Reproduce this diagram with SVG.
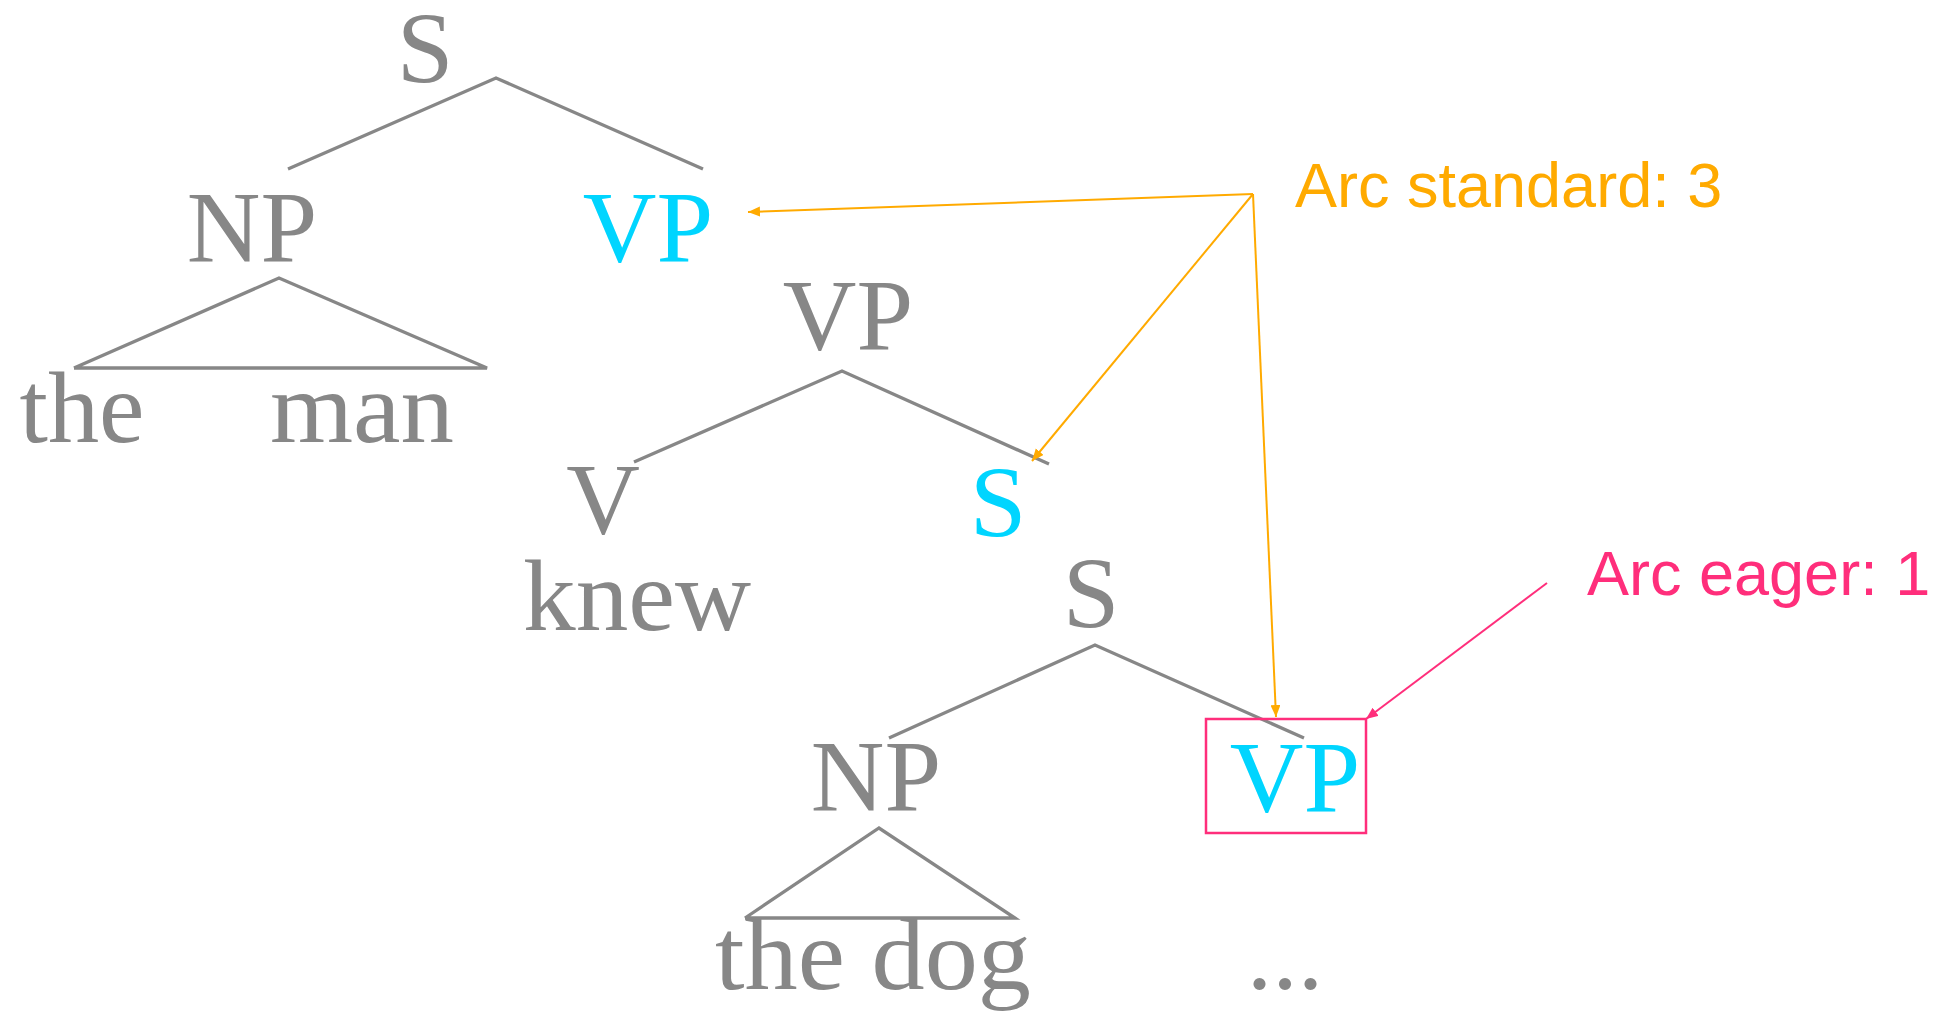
<svg xmlns="http://www.w3.org/2000/svg" width="1938" height="1019" viewBox="0 0 1938 1019">
  <style>
    .lbl { font-family: "Liberation Serif", "DejaVu Serif", serif; font-size: 102px; text-anchor: middle; }
    .gray { fill: #878787; }
    .cyan { fill: #00D5FF; }
    .edge { stroke: #878787; stroke-width: 3.3; fill: none; stroke-linejoin: miter; }
    .note { font-family: "Liberation Sans", Arial, sans-serif; font-size: 63px; }
    .std { stroke: #FFAA00; stroke-width: 2; fill: none; }
    .eag { stroke: #FF2E7B; stroke-width: 2; fill: none; }
  </style>
  <defs>
    <marker id="headStd" markerUnits="userSpaceOnUse" markerWidth="13" markerHeight="11" refX="12" refY="5" orient="auto">
      <path d="M0,0 L12,5 L0,10 z" fill="#FFAA00"/>
    </marker>
    <marker id="headEag" markerUnits="userSpaceOnUse" markerWidth="13" markerHeight="11" refX="12" refY="5" orient="auto">
      <path d="M0,0 L12,5 L0,10 z" fill="#FF2E7B"/>
    </marker>
  </defs>
  <rect width="1938" height="1019" fill="#ffffff"/>

  <!-- tree branches -->
  <g id="connectors">
    <polyline class="edge" points="288,169 496,78 703,169"/>
    <polyline class="edge" points="74,368 279,278 487,368 74,368"/>
    <polyline class="edge" points="634,462 842,371 1049,464"/>
    <polyline class="edge" points="889,738 1095,645 1304,738"/>
    <polyline class="edge" points="745,918 879,828 1015,918 745,918"/>
    <!-- transition arrows -->
    <line class="std" x1="1253" y1="194" x2="748" y2="212" marker-end="url(#headStd)"/>
    <line class="std" x1="1253" y1="194" x2="1032" y2="461" marker-end="url(#headStd)"/>
    <line class="std" x1="1253" y1="194" x2="1276" y2="717" marker-end="url(#headStd)"/>
    <line class="eag" x1="1547" y1="583" x2="1366" y2="719" marker-end="url(#headEag)"/>
  </g>

  <g id="s-root"><text class="lbl gray" x="425" y="83">S</text></g>
  <g id="np-1"><text class="lbl gray" x="252" y="262">NP</text></g>
  <g id="vp-1"><text class="lbl cyan" x="648" y="262">VP</text></g>
  <g id="words-1">
    <text class="lbl gray" x="82" y="442" textLength="125" lengthAdjust="spacingAndGlyphs">the</text>
    <text class="lbl gray" x="362" y="442" textLength="184" lengthAdjust="spacingAndGlyphs">man</text>
  </g>
  <g id="vp-2"><text class="lbl gray" x="848" y="350">VP</text></g>
  <g id="v"><text class="lbl gray" x="603" y="534">V</text></g>
  <g id="s-2"><text class="lbl cyan" x="998" y="537">S</text></g>
  <g id="knew"><text class="lbl gray" x="637" y="630" textLength="228" lengthAdjust="spacingAndGlyphs">knew</text></g>
  <g id="s-3"><text class="lbl gray" x="1091" y="628">S</text></g>
  <g id="np-2"><text class="lbl gray" x="876" y="811">NP</text></g>
  <g id="vp-3">
    <rect x="1206" y="719" width="160" height="114" fill="none" stroke="#FF2E7B" stroke-width="2.5"/>
    <text class="lbl cyan" x="1295" y="812">VP</text>
  </g>
  <g id="words-2"><text class="lbl gray" x="873" y="989" textLength="316" lengthAdjust="spacingAndGlyphs">the dog</text></g>
  <g id="ellipsis"><text class="lbl gray" x="1285" y="989">...</text></g>

  <g id="label-standard"><text class="note" x="1295" y="207" fill="#FFAA00">Arc standard: 3</text></g>
  <g id="label-eager"><text class="note" x="1587" y="595" fill="#FF2E7B">Arc eager: 1</text></g>
</svg>
